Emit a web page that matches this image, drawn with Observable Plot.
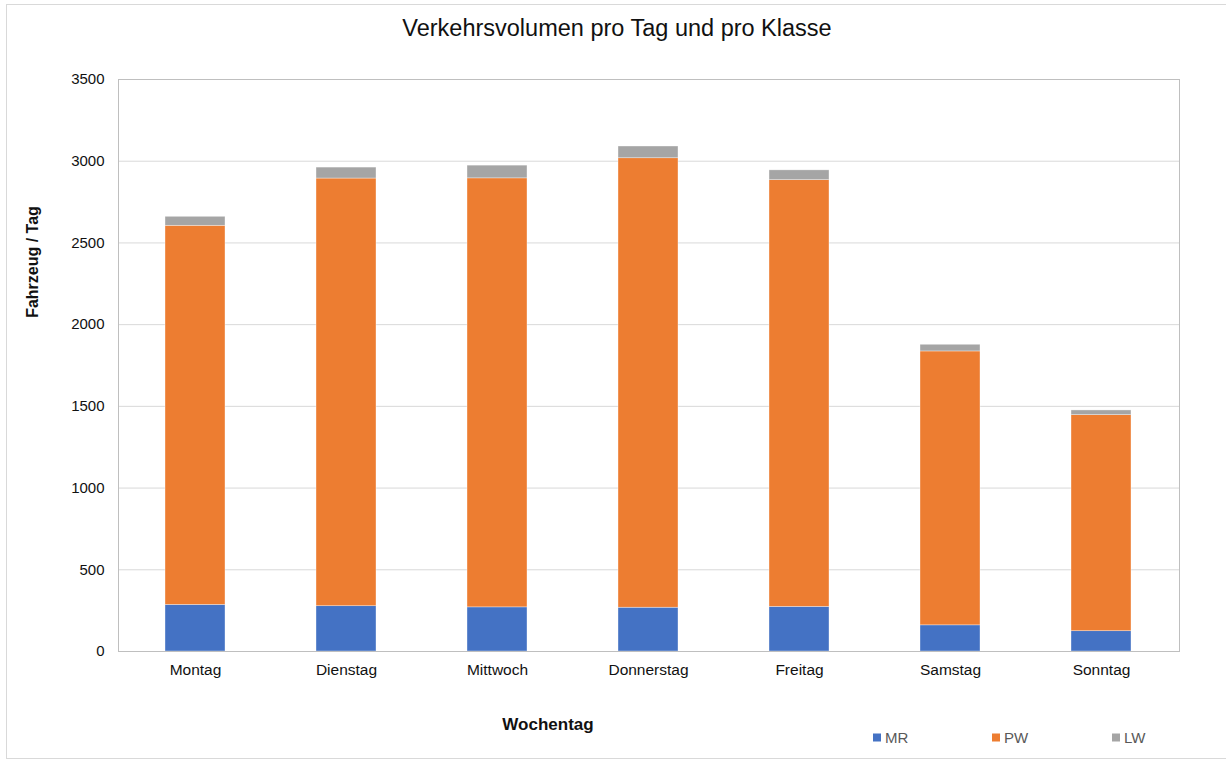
<!DOCTYPE html>
<html>
<head>
<meta charset="utf-8">
<script src="https://cdn.jsdelivr.net/npm/d3@7"></script>
<script src="https://cdn.jsdelivr.net/npm/@observablehq/plot@0.6"></script>
<style>
  html, body { margin: 0; padding: 0; background: #fff; }
  #wrap { position: relative; width: 1226px; height: 762px; overflow: hidden; font-family: "Liberation Sans", Arial, sans-serif; }
  #border { position: absolute; left: 6px; top: 4px; width: 1240px; height: 755px; border: 1px solid #d9d9d9; box-sizing: border-box; }
  #chart { position: absolute; left: 0; top: 0; }
  .title { position: absolute; left: 0; width: 1234px; top: 28px; transform: translateY(-50%); text-align: center; font-size: 23.5px; color: #111; }
  .ylab { position: absolute; left: 33px; top: 262px; transform: translate(-50%, -50%) rotate(-90deg); font-size: 16px; font-weight: bold; color: #111; white-space: nowrap; }
  .xlab { position: absolute; left: 548px; top: 725px; transform: translate(-50%, -50%); font-size: 17px; font-weight: bold; color: #111; white-space: nowrap; }
  .leg { position: absolute; top: 737px; transform: translateY(-50%); font-size: 15px; color: #595959; display: flex; align-items: center; gap: 4px; }
  .leg span.sw { display: inline-block; width: 8px; height: 8px; }
</style>
</head>
<body>
<div id="wrap">
  <div id="border"></div>
  <div id="chart"></div>
  <div class="title">Verkehrsvolumen pro Tag und pro Klasse</div>
  <div class="ylab">Fahrzeug / Tag</div>
  <div class="xlab">Wochentag</div>
  <div id="legend"></div>
</div>
<script>
const days = ["Montag", "Dienstag", "Mittwoch", "Donnerstag", "Freitag", "Samstag", "Sonntag"];
const classes = ["MR", "PW", "LW"];
const colors = ["#4472c4", "#ed7d31", "#a5a5a5"];
const mr = [285, 277, 270, 268, 273, 160, 124];
const pw = [2320, 2617, 2625, 2750, 2611, 1676, 1322];
const lw = [55, 67, 78, 72, 60, 41, 29];
const yTicks = [0, 500, 1000, 1500, 2000, 2500, 3000, 3500];
const legendX = [873, 992, 1112];

const series = {MR: mr, PW: pw, LW: lw};
const data = [];
classes.forEach(c => days.forEach((d, i) => data.push({day: d, cls: c, value: series[c][i]})));

const plot = Plot.plot({
  width: 1226,
  height: 762,
  marginLeft: 118,
  marginRight: 47,
  marginTop: 79,
  marginBottom: 111,
  style: {fontFamily: "'Liberation Sans', Arial, sans-serif", fontSize: "15px", color: "#111", background: "transparent"},
  x: {domain: days, paddingInner: 0.6, paddingOuter: 0.3, label: null},
  y: {domain: [0, 3500], label: null},
  color: {domain: classes, range: colors},
  marks: [
    Plot.gridY(yTicks, {stroke: "#d9d9d9", strokeOpacity: 1}),
    Plot.barY(data, {x: "day", y: "value", fill: "cls", order: classes, stroke: "#fff", strokeWidth: 0.6, strokeOpacity: 0.6}),
    Plot.frame({stroke: "#bfbfbf"}),
    Plot.axisY(yTicks, {tickSize: 0, tickPadding: 14, label: null, fontSize: 15, tickFormat: d => String(d)}),
    Plot.axisX({tickSize: 0, tickPadding: 12, label: null, fontSize: 15.5})
  ]
});
document.getElementById("chart").appendChild(plot);

const leg = document.getElementById("legend");
classes.forEach((c, i) => {
  const el = document.createElement("div");
  el.className = "leg";
  el.style.left = legendX[i] + "px";
  el.innerHTML = `<span class="sw" style="background:${colors[i]}"></span><span>${c}</span>`;
  leg.appendChild(el);
});
</script>
</body>
</html>
